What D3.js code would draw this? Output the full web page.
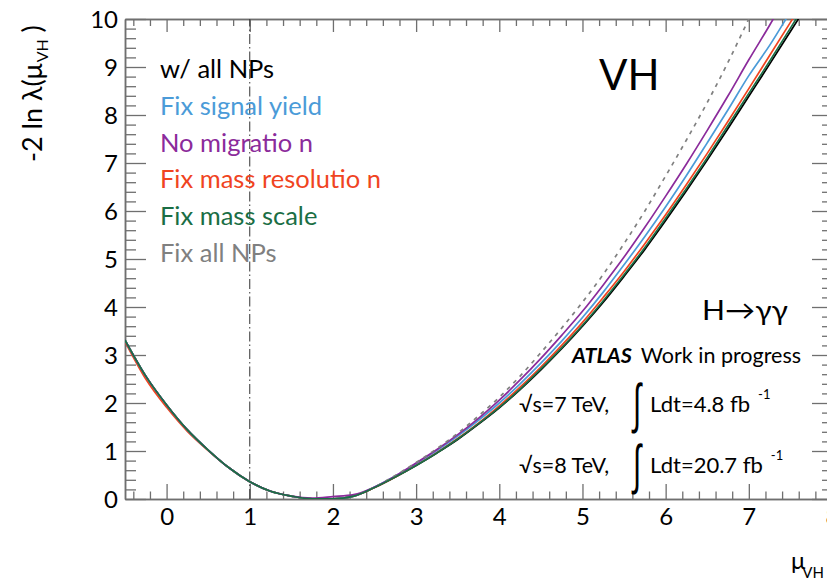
<!DOCTYPE html>
<html>
<head>
<meta charset="utf-8">
<script src="https://cdn.jsdelivr.net/npm/d3@7"></script>
<style>
  body { margin: 0; background: #fff; }
  svg { display: block; }
  text { font-family: Lato, "Open Sans", sans-serif; }
</style>
</head>
<body>
<svg id="chart" width="827" height="581"></svg>
<script>
// Profile likelihood scan of mu_VH, one curve per nuisance-parameter treatment
const muGrid = [-0.5, -0.25, 0, 0.25, 0.5, 0.75, 1.0, 1.25, 1.5, 1.75, 2.0, 2.25, 2.5, 2.75,
  3.0, 3.25, 3.5, 3.75, 4.0, 4.25, 4.5, 4.75, 5.0, 5.25, 5.5, 5.75, 6.0, 6.25, 6.5, 6.75,
  7.0, 7.25, 7.5, 7.75];

const allNPs = [3.31, 2.56, 1.96, 1.44, 1.02, 0.65, 0.36, 0.16, 0.06, 0.005, 0.005, 0.06, 0.24, 0.46,
  0.70, 0.96, 1.24, 1.56, 1.90, 2.28, 2.69, 3.13, 3.60, 4.10, 4.64, 5.20, 5.80, 6.42, 7.06, 7.72,
  8.39, 9.06, 9.74, 10.42];
const fixSignalYield = [3.31, 2.56, 1.96, 1.44, 1.02, 0.65, 0.36, 0.16, 0.06, 0.005, 0.005, 0.06, 0.25, 0.48,
  0.74, 1.01, 1.31, 1.64, 2.00, 2.40, 2.83, 3.29, 3.78, 4.31, 4.88, 5.47, 6.09, 6.74, 7.42, 8.11,
  8.82, 9.45, 10.15, 10.85];
const noMigration = [3.31, 2.56, 1.96, 1.44, 1.02, 0.65, 0.36, 0.16, 0.06, 0.02, 0.05, 0.09, 0.25, 0.48,
  0.75, 1.03, 1.34, 1.68, 2.06, 2.48, 2.93, 3.41, 3.91, 4.46, 5.04, 5.66, 6.31, 6.98, 7.68, 8.40,
  9.15, 9.87, 10.63, 11.40];
const fixMassResolution = [3.28, 2.50, 1.91, 1.41, 1.01, 0.65, 0.36, 0.16, 0.06, 0.005, 0.005, 0.06, 0.24, 0.46,
  0.71, 0.97, 1.26, 1.58, 1.94, 2.33, 2.75, 3.20, 3.68, 4.20, 4.74, 5.32, 5.92, 6.55, 7.20, 7.87,
  8.55, 9.24, 9.93, 10.62];
const fixMassScale = [3.31, 2.56, 1.96, 1.44, 1.02, 0.65, 0.36, 0.16, 0.06, 0.005, 0.005, 0.06, 0.24, 0.46,
  0.70, 0.96, 1.25, 1.57, 1.91, 2.29, 2.71, 3.15, 3.62, 4.13, 4.67, 5.24, 5.85, 6.47, 7.11, 7.78,
  8.45, 9.12, 9.81, 10.50];
const fixAllNPs = [3.31, 2.56, 1.96, 1.44, 1.02, 0.65, 0.36, 0.16, 0.06, 0.005, 0.005, 0.06, 0.25, 0.49,
  0.76, 1.05, 1.37, 1.73, 2.12, 2.56, 3.05, 3.56, 4.10, 4.68, 5.32, 6.00, 6.73, 7.48, 8.26, 9.10,
  10.00, 10.90, 11.80, 12.70];

const seriesNames = ["w/ all NPs", "Fix signal yield", "No migratio n", "Fix mass resolutio n", "Fix mass scale", "Fix all NPs"];
const seriesColors = ["#000000", "#4b9bd8", "#8b2b9b", "#f0441f", "#1a6e45", "#808080"];
const xTickValues = [0, 1, 2, 3, 4, 5, 6, 7, 8];
const yTickValues = [0, 1, 2, 3, 4, 5, 6, 7, 8, 9, 10];
const smHypothesis = 1;

const svg = d3.select("#chart");
const frame = { left: 125, top: 19, bottom: 499, right: 832 };
const x = d3.scaleLinear().domain([-0.5, 8]).range([frame.left, frame.right]);
const y = d3.scaleLinear().domain([0, 10]).range([frame.bottom, frame.top]);

const xMinor = d3.range(-0.4, 8.001, 0.2).filter(v => Math.abs(v - Math.round(v)) > 1e-6);
const yMinor = d3.range(0.2, 10.0, 0.2).filter(v => Math.abs(v - Math.round(v)) > 1e-6);

const axisColor = "#6f6f6f";
function styleAxis(g) {
  g.selectAll("path.domain").attr("stroke", axisColor).attr("stroke-width", 1.5);
  g.selectAll(".tick line").attr("stroke", axisColor).attr("stroke-width", 1.3);
  g.selectAll(".tick text").attr("fill", "#000").style("font-size", "24px").style("font-family", "Lato, sans-serif");
}

// bottom axis
svg.append("g").attr("transform", `translate(0,${frame.bottom})`)
  .call(d3.axisBottom(x).tickValues(xMinor).tickSizeInner(-7.5).tickSizeOuter(0).tickFormat(""))
  .call(styleAxis);
svg.append("g").attr("transform", `translate(0,${frame.bottom})`)
  .call(d3.axisBottom(x).tickValues(xTickValues).tickSizeInner(-15).tickSizeOuter(0).tickPadding(9).tickFormat(d3.format("d")))
  .call(styleAxis);
// top axis
svg.append("g").attr("transform", `translate(0,${frame.top})`)
  .call(d3.axisTop(x).tickValues(xMinor).tickSizeInner(-7).tickSizeOuter(0).tickFormat(""))
  .call(styleAxis);
svg.append("g").attr("transform", `translate(0,${frame.top})`)
  .call(d3.axisTop(x).tickValues(xTickValues).tickSizeInner(-13).tickSizeOuter(0).tickFormat(""))
  .call(styleAxis);
// left axis
svg.append("g").attr("transform", `translate(${frame.left},0)`)
  .call(d3.axisLeft(y).tickValues(yMinor).tickSizeInner(-11).tickSizeOuter(0).tickFormat(""))
  .call(styleAxis);
svg.append("g").attr("transform", `translate(${frame.left},0)`)
  .call(d3.axisLeft(y).tickValues(yTickValues).tickSizeInner(-21).tickSizeOuter(0).tickPadding(7).tickFormat(d3.format("d")))
  .call(styleAxis)
  .call(g => g.selectAll(".tick text").attr("dy", "0.36em"));
// right axis
svg.append("g").attr("transform", `translate(${frame.right},0)`)
  .call(d3.axisRight(y).tickValues(yMinor).tickSizeInner(-10).tickSizeOuter(0).tickFormat(""))
  .call(styleAxis);
svg.append("g").attr("transform", `translate(${frame.right},0)`)
  .call(d3.axisRight(y).tickValues(yTickValues).tickSizeInner(-20).tickSizeOuter(0).tickFormat(""))
  .call(styleAxis);

// SM reference line at mu = 1
svg.append("line")
  .attr("x1", x(smHypothesis)).attr("x2", x(smHypothesis))
  .attr("y1", y(0)).attr("y2", y(10))
  .attr("stroke", "#333").attr("stroke-width", 1)
  .attr("stroke-dasharray", "10,3,1.5,3");

// curves
svg.append("clipPath").attr("id", "plotClip")
  .append("rect").attr("x", frame.left).attr("y", frame.top)
  .attr("width", frame.right - frame.left).attr("height", frame.bottom - frame.top);

const line = d3.line()
  .x(d => x(d[0]))
  .y(d => y(d[1]))
  .curve(d3.curveMonotoneX);

const curves = [
  { values: allNPs, color: seriesColors[0], dash: null },
  { values: fixMassResolution, color: seriesColors[3], dash: null },
  { values: fixSignalYield, color: seriesColors[1], dash: null },
  { values: noMigration, color: seriesColors[2], dash: null },
  { values: fixAllNPs, color: seriesColors[5], dash: "4,5" },
  { values: fixMassScale, color: seriesColors[4], dash: null }
];
const curveLayer = svg.append("g").attr("clip-path", "url(#plotClip)");
curves.forEach(c => {
  curveLayer.append("path")
    .datum(muGrid.map((m, i) => [m, c.values[i]]))
    .attr("d", line)
    .attr("fill", "none")
    .attr("stroke", c.color)
    .attr("stroke-width", 1.7)
    .attr("stroke-dasharray", c.dash);
});

// legend
const legend = svg.append("g");
seriesNames.forEach((name, i) => {
  legend.append("text")
    .attr("x", 160).attr("y", 78 + i * 36.8)
    .attr("fill", seriesColors[i])
    .style("font-size", "25.5px")
    .text(name);
});

// axis titles
const yTitle = svg.append("text")
  .attr("transform", "translate(42,162) rotate(-90)")
  .style("font-size", "27px");
yTitle.append("tspan").text("-2 ln  λ(μ");
yTitle.append("tspan").attr("dy", 6).attr("dx", 1).style("font-size", "16px").text("VH");
yTitle.append("tspan").attr("dy", -6).text(" )");

const xTitle = svg.append("text").attr("x", 791).attr("y", 569).style("font-size", "24px");
xTitle.append("tspan").text("μ");
xTitle.append("tspan").attr("dy", 9).attr("dx", -3).style("font-size", "15px").text("VH");

// labels
svg.append("text").attr("x", 599).attr("y", 90).style("font-size", "42px").text("VH");
svg.append("text").attr("x", 702).attr("y", 320).style("font-size", "27px")
  .attr("textLength", 86).attr("lengthAdjust", "spacingAndGlyphs").text("H→γγ");

const atlas = svg.append("text").attr("x", 572).attr("y", 363).style("font-size", "21.5px");
atlas.append("tspan").style("font-weight", "bold").style("font-style", "italic").text("ATLAS");
atlas.append("tspan").attr("dx", 9).text("Work in progress");

const lumiLines = [
  { energy: "=7 TeV,", lumi: "Ldt=4.8 fb", base: 412 },
  { energy: "=8 TeV,", lumi: "Ldt=20.7 fb", base: 473 }
];
lumiLines.forEach(l => {
  const t = svg.append("text").attr("x", 519).attr("y", l.base).style("font-size", "21.5px");
  t.append("tspan").text("√s");
  t.append("tspan").text(l.energy);
  // slim, tall integral sign
  svg.append("text")
    .attr("transform", `translate(633,${l.base + 10}) scale(0.55,1)`)
    .style("font-size", "54px").style("font-family", "'Liberation Sans', sans-serif")
    .text("∫");
  const u = svg.append("text").attr("x", 650).attr("y", l.base).style("font-size", "22px");
  u.append("tspan").text(l.lumi);
  u.append("tspan").attr("dx", 8).attr("dy", -13).style("font-size", "13px").text("-1");
});
</script>
</body>
</html>
